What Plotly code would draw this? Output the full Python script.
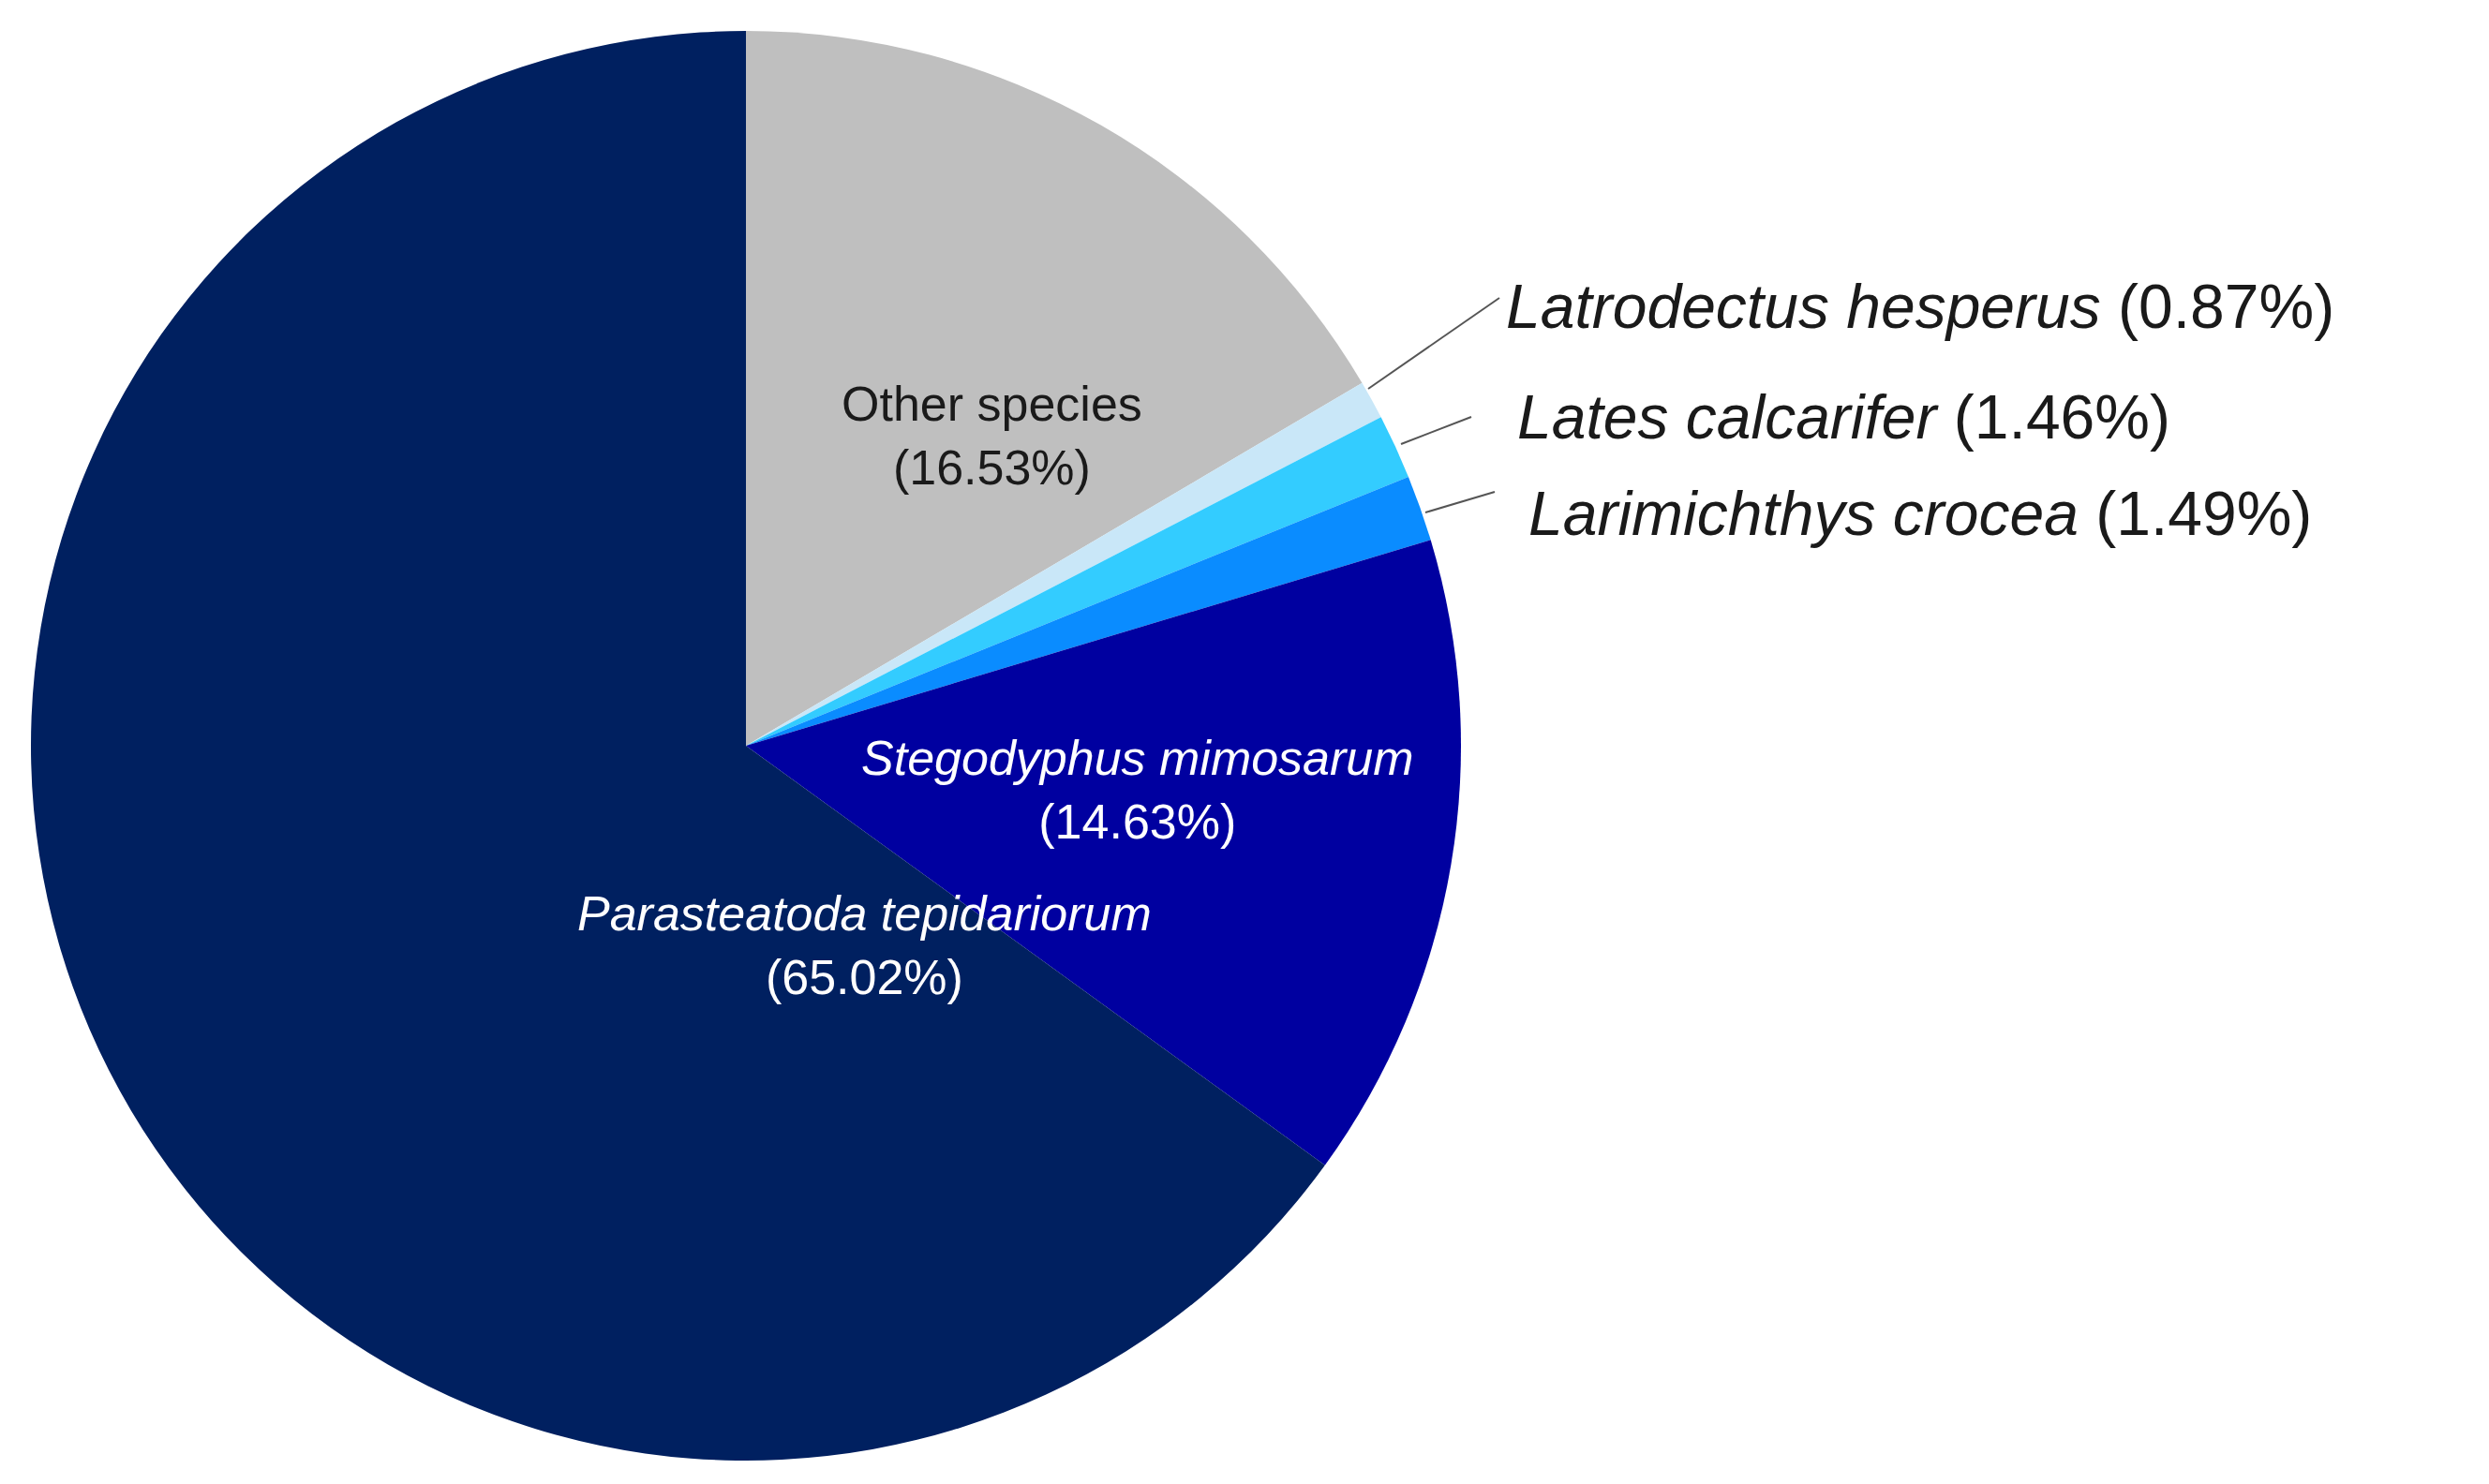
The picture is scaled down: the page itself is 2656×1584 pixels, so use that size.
import plotly.graph_objects as go

W, H = 2656, 1584

species = ["Other species", "Latrodectus hesperus", "Lates calcarifer",
           "Larimichthys crocea", "Stegodyphus mimosarum", "Parasteatoda tepidariorum"]
shares = [16.53, 0.87, 1.46, 1.49, 14.63, 65.02]
colors = ["#BFBFBF", "#C9E7F8", "#33CCFF", "#0A8CFF", "#0000A0", "#002060"]


def px(x, y):
    return x / W, 1 - y / H


# pie centre ~ (788, 788), radius ~763
fig = go.Figure(go.Pie(
    labels=species, values=shares, sort=False, direction="clockwise",
    rotation=0, marker=dict(colors=colors, line=dict(width=0)),
    textinfo="none", hoverinfo="label+percent", showlegend=False,
    domain=dict(x=[25 / W, 1551 / W], y=[1 - 1551 / H, 1 - 25 / H]),
))

FONT = "Liberation Sans, Arial, sans-serif"
anns = []


def inside(name, val, x, y, color, italic):
    nm = f"<i>{name}</i>" if italic else name
    xx, yy = px(x, y)
    anns.append(dict(x=xx, y=yy, xref="paper", yref="paper", showarrow=False,
                     text=f"{nm}<br>({val:.2f}%)", align="center",
                     font=dict(family=FONT, size=52, color=color)))


inside(species[0], shares[0], 1050, 392, "#1a1a1a", False)
inside(species[4], shares[4], 1206, 835, "white", True)
inside(species[5], shares[5], 606, 1066, "white", True)

outside = [(1, 1597, 280, (1452, 407), (1592, 310)),
           (2, 1609, 398, (1487, 466), (1562, 437)),
           (3, 1621, 501, (1513, 539), (1587, 517))]
shapes = []
for i, x, y, p0, p1 in outside:
    xx, yy = px(x, y)
    anns.append(dict(x=xx, y=yy, xref="paper", yref="paper", showarrow=False,
                     xanchor="left", text=f"<i>{species[i]}</i> ({shares[i]:.2f}%)",
                     font=dict(family=FONT, size=66, color="#1a1a1a")))
    a, b = px(*p0)
    c, d = px(*p1)
    shapes.append(dict(type="line", xref="paper", yref="paper", x0=a, y0=b, x1=c, y1=d,
                       line=dict(color="#555555", width=2)))

fig.update_layout(width=W, height=H, margin=dict(l=0, r=0, t=0, b=0),
                  paper_bgcolor="white", plot_bgcolor="white",
                  annotations=anns, shapes=shapes)
fig.write_html("out.html")
